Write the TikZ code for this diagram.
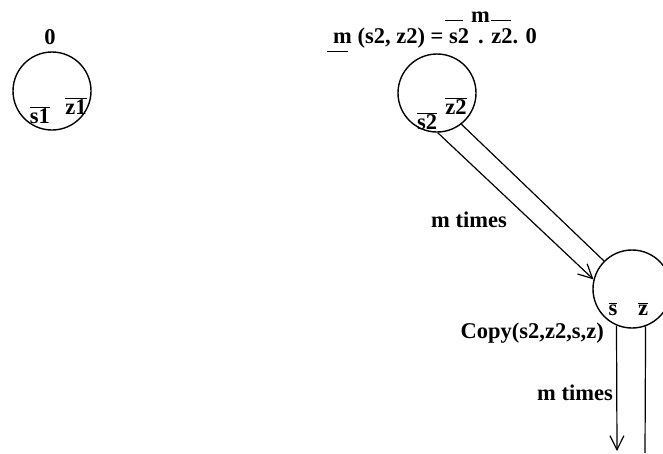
\documentclass[tikz,border=0pt]{standalone}
\usepackage{fontspec}
\setmainfont{Liberation Serif}
\usetikzlibrary{arrows.meta,positioning}
\newcommand{\ovl}[1]{$\overline{\mbox{#1}}$}

\begin{document}
\begin{tikzpicture}[x=1pt,y=-1pt,font=\fontsize{22.5}{27}\selectfont\bfseries,
  state/.style={draw,circle,line width=1.4pt,minimum size=78pt,inner sep=0pt},
  lbl/.style={anchor=base,inner sep=0pt},
  flow/.style={line width=1.2pt},
  barb/.style={-{Straight Barb[length=14pt,width=14pt]}}]
\useasboundingbox (0,0) rectangle (663,453);
\clip (0,0) rectangle (663,453);
% states
\node[state] (c1) at (52,91) {};
\node[state] (c2) at (437,93) {};
\node[state] (c3) at (632,289) {};
% labels inside the states
\node[lbl] (s1) at (40,123) {\ovl{s1}};
\node[lbl] (z1) at (76,114) {\ovl{z1}};
\node[lbl] (s2) at (427,129) {\ovl{s2}};
\node[lbl] (z2) at (456,114) {\ovl{z2}};
\node[lbl] (s) at (613,315) {\ovl{s}};
\node[lbl] (z) at (643,315) {\ovl{z}};
% texts above the states
\node[lbl] (zero) at (50,44) {0};
\node[lbl,anchor=base west] (lhs) at (327,43) {\rlap{\rule[-9pt]{21pt}{0.8pt}}\kern6pt m (s2, z2) =};
\node[lbl,anchor=base west] (s2top) at (449,43) {s2};
\node[lbl,anchor=base west] (sup) at (445,22) {\rule[1pt]{18pt}{0.8pt}\hspace{8pt}m\hspace{1pt}\rule[1pt]{20pt}{0.8pt}};
\node[lbl,anchor=base west] (rest) at (478,43) {. z2. 0};
% connectors
\draw[flow,barb] (c2.271) -- (c3.166);
\draw[flow] (c2.308) -- (c3.135);
\node[lbl,anchor=base west] (times1) at (431,227) {m times};
\coordinate (e1) at (617,451);
\coordinate (e2) at (645,453);
\draw[flow,barb] (c3.247) -- (e1);
\draw[flow] (c3.290) -- (e2);
\node[lbl,anchor=base east] (copy) at (604,338) {Copy(s2,z2,s,z)};
\node[lbl,anchor=base east] (times2) at (613,400) {m times};
\end{tikzpicture}
\end{document}
